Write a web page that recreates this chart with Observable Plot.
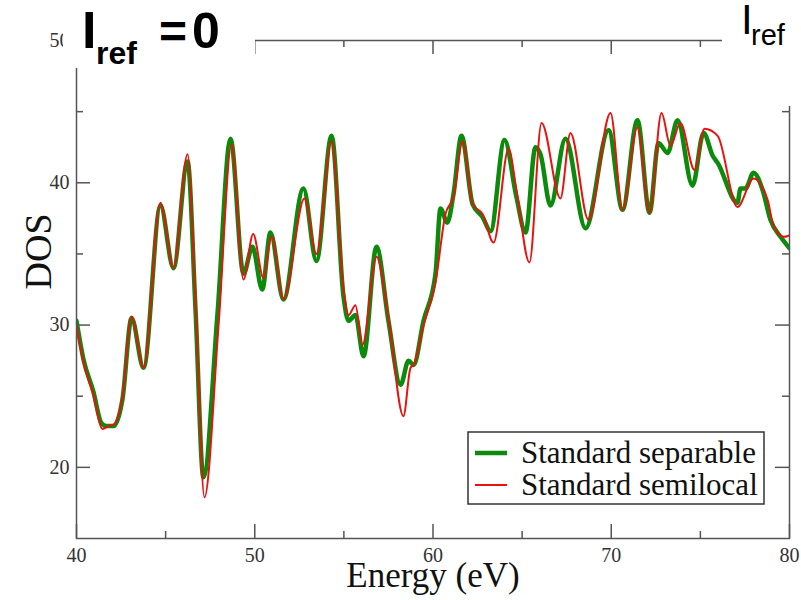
<!DOCTYPE html>
<html>
<head>
<meta charset="utf-8">
<script src="https://cdn.jsdelivr.net/npm/d3@7"></script>
<script src="https://cdn.jsdelivr.net/npm/@observablehq/plot@0.6"></script>
<style>
  body { margin: 0; background: #fff; }
  #wrap { position: relative; width: 801px; height: 600px; overflow: hidden; }
  #overlay { position: absolute; left: 0; top: 0; pointer-events: none; }
</style>
</head>
<body>
<div id="wrap"></div>
<script>
// ---- data ----
const energySeparable = [40.00, 40.39, 40.95, 41.40, 41.68, 42.08, 42.58, 43.09, 43.76, 44.71, 45.44, 46.23, 46.68, 47.12, 47.91, 48.64, 49.37, 49.87, 50.42, 50.88, 51.61, 52.73, 53.46, 54.31, 54.98, 55.26, 55.65, 56.10, 56.83, 57.50, 58.18, 58.63, 58.91, 59.47, 60.14, 60.42, 60.80, 61.15, 61.60, 62.22, 62.78, 63.23, 64.01, 64.68, 65.19, 65.75, 66.03, 66.59, 67.43, 68.56, 69.85, 70.63, 71.47, 72.15, 72.65, 73.16, 73.72, 74.56, 75.18, 75.69, 75.97, 77.08, 77.25, 77.53, 77.98, 78.49, 78.93, 79.50, 80.00];
const dosSeparable = [30.3, 27.6, 25.3, 23.1, 22.9, 22.9, 24.8, 30.5, 27.0, 38.4, 34.0, 41.5, 31.0, 19.3, 30.8, 43.1, 33.6, 35.5, 32.5, 36.5, 31.8, 39.6, 34.5, 43.3, 32.0, 30.3, 30.7, 27.8, 35.5, 30.3, 25.8, 27.5, 27.2, 30.3, 33.6, 38.2, 37.2, 39.2, 43.3, 38.5, 37.6, 36.6, 43.0, 39.0, 36.5, 42.5, 42.0, 38.4, 43.1, 36.8, 43.7, 38.1, 44.4, 37.9, 42.8, 42.1, 44.4, 39.8, 43.5, 41.9, 41.4, 38.6, 39.6, 39.6, 40.7, 39.5, 37.4, 36.2, 35.4];

const energySemilocal = [40.00, 40.39, 40.95, 41.46, 41.80, 42.08, 42.58, 43.09, 43.76, 44.71, 45.44, 46.23, 46.68, 47.18, 47.97, 48.70, 49.37, 49.91, 50.49, 50.94, 51.61, 52.79, 53.46, 54.31, 54.98, 55.26, 55.65, 56.04, 56.83, 57.50, 58.34, 58.74, 58.91, 59.47, 60.14, 60.70, 61.15, 61.66, 62.22, 62.78, 63.40, 64.24, 64.68, 65.41, 66.09, 67.15, 67.71, 68.72, 69.96, 70.63, 71.47, 72.15, 72.82, 73.32, 73.88, 74.67, 75.23, 75.97, 77.08, 77.98, 78.77, 79.10, 79.66, 80.00];
const dosSemilocal = [30.0, 27.4, 25.1, 22.7, 22.9, 23.0, 24.9, 30.6, 27.0, 38.6, 34.0, 42.0, 31.5, 17.9, 30.0, 42.7, 33.2, 36.4, 33.3, 36.2, 31.8, 38.9, 35.0, 42.9, 32.5, 30.7, 31.4, 28.6, 34.8, 30.5, 23.6, 27.0, 27.2, 30.0, 33.0, 37.8, 39.0, 42.9, 38.5, 37.8, 35.8, 42.4, 39.5, 34.4, 44.2, 38.9, 43.5, 37.4, 44.9, 38.1, 43.9, 37.9, 44.9, 42.6, 44.2, 40.9, 43.8, 43.3, 38.3, 40.3, 38.8, 37.0, 36.2, 36.3];

const seriesNames = ["Standard separable", "Standard semilocal"];
const seriesColors = ["#0c8a0c", "#e8120f"];
const xMajor = [40, 50, 60, 70, 80];
const xMinor = [45, 55, 65, 75];
const yMajor = [20, 30, 40, 50];
const yMinor = [25, 35, 45];
const xDomain = [40, 80];
const yDomain = [15, 50];
const xTitle = "Energy (eV)";
const yTitle = "DOS";

// ---- layout ----
const W = 801, H = 600;
const mL = 76, mR = 12, mT = 40, mB = 62;
const fw = W - mL - mR, fh = H - mT - mB;
const axisColor = "#555";

const sep = energySeparable.map((e, i) => ({ e, v: dosSeparable[i] }));
const semi = energySemilocal.map((e, i) => ({ e, v: dosSemilocal[i] }));

const chart = Plot.plot({
  width: W, height: H,
  marginLeft: mL, marginRight: mR, marginTop: mT, marginBottom: mB,
  x: { domain: xDomain },
  y: { domain: yDomain },
  style: { fontFamily: "'Liberation Serif', 'DejaVu Serif', serif", background: "#fff" },
  marks: [
    Plot.line(sep, { x: "e", y: "v", stroke: seriesColors[0], strokeWidth: 4.5, curve: "monotone-x", clip: true }),
    Plot.line(semi, { x: "e", y: "v", stroke: seriesColors[1], strokeWidth: 2, curve: "monotone-x", clip: true }),
    Plot.frame({ stroke: axisColor, strokeWidth: 1.5 }),
    Plot.ruleX(xMajor, { x: d => d, insetTop: fh - 14, stroke: axisColor, strokeWidth: 1.5 }),
    Plot.ruleX(xMajor, { x: d => d, insetBottom: fh - 14, stroke: axisColor, strokeWidth: 1.5 }),
    Plot.ruleX(xMinor, { x: d => d, insetTop: fh - 7, stroke: axisColor, strokeWidth: 1.5 }),
    Plot.ruleX(xMinor, { x: d => d, insetBottom: fh - 7, stroke: axisColor, strokeWidth: 1.5 }),
    Plot.ruleY(yMajor, { y: d => d, insetRight: fw - 14, stroke: axisColor, strokeWidth: 1.5 }),
    Plot.ruleY(yMajor, { y: d => d, insetLeft: fw - 14, stroke: axisColor, strokeWidth: 1.5 }),
    Plot.ruleY(yMinor, { y: d => d, insetRight: fw - 7, stroke: axisColor, strokeWidth: 1.5 }),
    Plot.ruleY(yMinor, { y: d => d, insetLeft: fw - 7, stroke: axisColor, strokeWidth: 1.5 }),
    Plot.axisX(xMajor, { tickSize: 0, tickPadding: 9, fontSize: 20, fill: "#333", label: null }),
    Plot.axisY(yMajor, { tickSize: 0, tickPadding: 7, fontSize: 20, fill: "#333", label: null }),
    Plot.text([xTitle], { frameAnchor: "bottom", dy: 48, fontSize: 35, fill: "#111" }),
    Plot.text([yTitle], { frameAnchor: "left", dx: -38, rotate: -90, fontSize: 38, fill: "#111" })
  ]
});

const wrap = document.getElementById("wrap");
wrap.appendChild(chart);

// ---- overlay: labels pasted over the top of the frame, and legend ----
const ns = "http://www.w3.org/2000/svg";
const ov = document.createElementNS(ns, "svg");
ov.setAttribute("id", "overlay");
ov.setAttribute("width", W);
ov.setAttribute("height", H);
function el(tag, attrs, text) {
  const e = document.createElementNS(ns, tag);
  for (const k in attrs) e.setAttribute(k, attrs[k]);
  if (text != null) e.textContent = text;
  ov.appendChild(e);
  return e;
}
const sans = "'Liberation Sans', Arial, sans-serif";
el("rect", { x: 63, y: 0, width: 192, height: 68, fill: "#fff" });
el("rect", { x: 722, y: 0, width: 79, height: 106, fill: "#fff" });
el("text", { x: 82, y: 48, "font-family": sans, "font-weight": "bold", "font-size": 52 }, "I");
el("text", { x: 96, y: 64, "font-family": sans, "font-weight": "bold", "font-size": 32 }, "ref");
el("text", { x: 159, y: 48, "font-family": sans, "font-weight": "bold", "font-size": 48 }, "=");
el("text", { x: 192, y: 48, "font-family": sans, "font-weight": "bold", "font-size": 50 }, "0");
el("text", { x: 741, y: 34, "font-family": sans, "font-size": 42 }, "I");
el("text", { x: 751, y: 45, "font-family": sans, "font-size": 29 }, "ref");

// legend
const serif = "'Liberation Serif', 'DejaVu Serif', serif";
el("rect", { x: 468, y: 432, width: 296, height: 72, fill: "#fff", stroke: "#333", "stroke-width": 1.5 });
const rows = [453, 485];
seriesNames.forEach((name, i) => {
  el("line", { x1: 475, x2: 507, y1: rows[i], y2: rows[i], stroke: seriesColors[i], "stroke-width": i === 0 ? 4.5 : 2 });
  el("text", { x: 521, y: rows[i] + 10, "font-family": serif, "font-size": 31, fill: "#111" }, name);
});
wrap.appendChild(ov);
</script>
</body>
</html>
